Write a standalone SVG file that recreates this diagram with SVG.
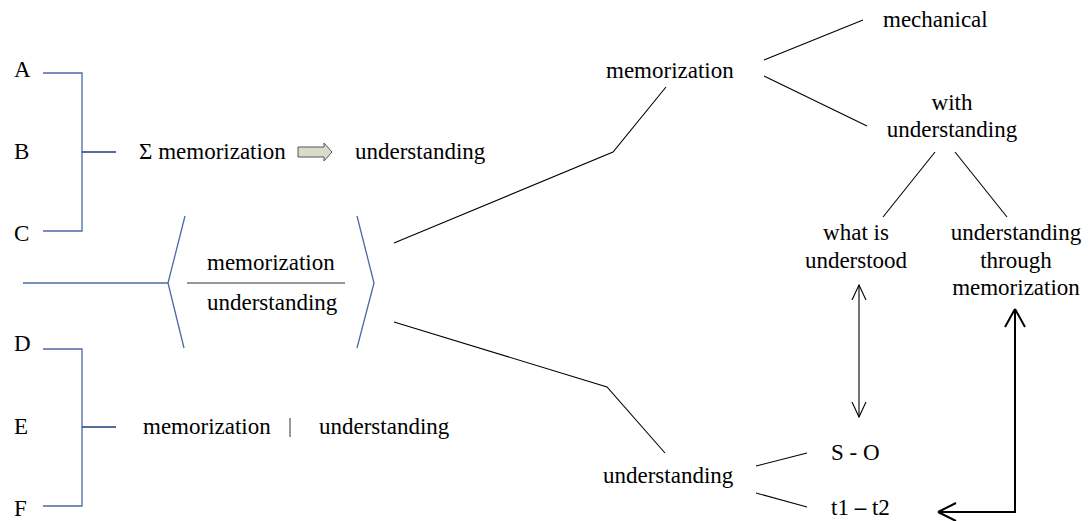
<svg xmlns="http://www.w3.org/2000/svg" width="1089" height="521" viewBox="0 0 1089 521" font-family="'Liberation Serif', 'Times New Roman', Times, 'DejaVu Serif', serif">
<defs>
<style>
text{font-family:"Liberation Serif","Times New Roman",Times,"DejaVu Serif",serif;font-size:23px;fill:#000}
.c{text-anchor:middle}
.bl{stroke:#4a6aa3;stroke-width:1.3;fill:none}
.bd{stroke:#1f3c7a;stroke-width:1.6;fill:none}
.k{stroke:#000;stroke-width:1.1;fill:none}
.kb{stroke:#000;stroke-width:2;fill:none}
</style>
<marker id="open" viewBox="0 0 16 16" refX="15" refY="8" markerWidth="16" markerHeight="16" markerUnits="userSpaceOnUse" orient="auto-start-reverse">
<path d="M0,1 L15,8 L0,15" fill="none" stroke="#000" stroke-width="1.1"/>
</marker>
</defs>
<g id="connectors">
<path class="bl" d="M43,73 H82 V231 H43"/>
<path class="bd" d="M82,152 H116"/>
<path class="bl" d="M43,349 H82 V506 H43"/>
<path class="bd" d="M82,427 H116"/>
<path class="bl" d="M23,283 H168"/>
<path class="bl" d="M185,216 L168,283 L184,348"/>
<path class="bl" d="M357,216 L374,283 L357,348"/>
<path class="k" d="M394,243 L613,152 L666,87"/>
<path class="k" d="M394,322 L607,387 L665,453"/>
<path class="k" d="M764,60 L863,20"/>
<path class="k" d="M764,76 L867,126"/>
<path class="k" d="M935,152 L883,217"/>
<path class="k" d="M955,152 L1007,217"/>
<path class="k" d="M756,466 L807,453"/>
<path class="k" d="M756,493 L807,507"/>
<path class="k" d="M859,285 V417" marker-start="url(#open)" marker-end="url(#open)"/>
<path class="kb" d="M938,512 H1015 V309"/>
<path d="M1015,309 L1005,327 M1015,309 L1025,327" class="kb"/>
<path d="M938,512 L956,503 M938,512 L956,521" class="kb"/>
</g>
<g id="node-A"><text x="14" y="77">A</text></g>
<g id="node-B"><text x="14" y="159">B</text></g>
<g id="node-C"><text x="14" y="241">C</text></g>
<g id="node-D"><text x="14" y="351">D</text></g>
<g id="node-E"><text x="14" y="434">E</text></g>
<g id="node-F"><text x="14" y="516">F</text></g>
<g id="node-sum">
<text x="139" y="159">Σ memorization</text>
<path d="M298,147 H324 V143 L332,152 L324,161 V157 H298 Z" fill="#d9dcc8" stroke="#555" stroke-width="1"/>
<text x="355" y="159">understanding</text>
</g>
<g id="node-fraction">
<text x="207" y="270">memorization</text>
<line x1="187" y1="283" x2="345" y2="283" stroke="#333" stroke-width="1.2"/>
<text x="207" y="310">understanding</text>
</g>
<g id="node-split">
<text x="143" y="434">memorization</text>
<line x1="290" y1="418" x2="290" y2="437" stroke="#777" stroke-width="1.5"/>
<text x="319" y="434">understanding</text>
</g>
<g id="node-memorization"><text x="606" y="78">memorization</text></g>
<g id="node-mechanical"><text x="883" y="27">mechanical</text></g>
<g id="node-with-understanding"><text class="c" x="952" y="110">with</text><text class="c" x="952" y="137">understanding</text></g>
<g id="node-what-is-understood"><text class="c" x="856" y="240">what is</text><text class="c" x="856" y="268">understood</text></g>
<g id="node-understanding-through"><text class="c" x="1016" y="240">understanding</text><text class="c" x="1016" y="268">through</text><text class="c" x="1016" y="295">memorization</text></g>
<g id="node-understanding"><text x="603" y="483">understanding</text></g>
<g id="node-SO"><text x="831" y="460">S - O</text></g>
<g id="node-t1t2"><text x="831" y="515">t1 <tspan font-weight="bold">–</tspan> t2</text></g>
</svg>
